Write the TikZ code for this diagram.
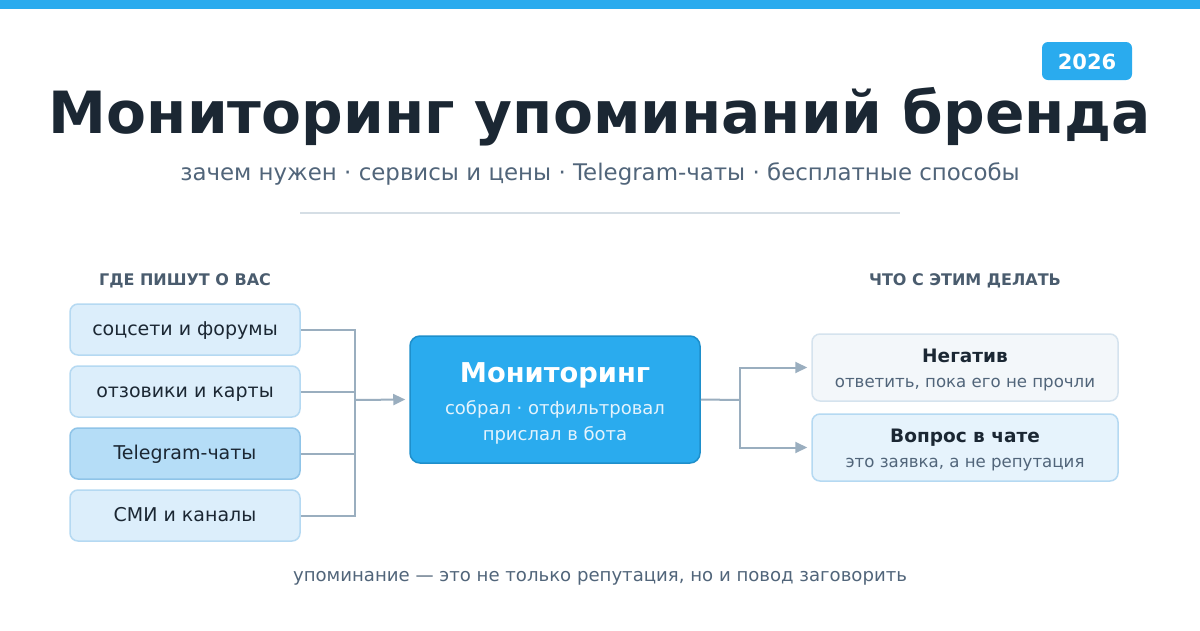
\documentclass[tikz,border=0pt]{standalone}
\usepackage{fontspec}
\setmainfont{DejaVu Sans}
\usetikzlibrary{arrows.meta}
\definecolor{tgblue}{HTML}{2AABEE}
\definecolor{tgborder}{HTML}{1E8FCB}
\definecolor{darktxt}{HTML}{1B2733}
\definecolor{graytxt}{HTML}{51657A}
\definecolor{headtxt}{HTML}{4A5C6E}
\definecolor{rule}{HTML}{D5DEE5}
\definecolor{srcfill}{HTML}{DCEEFB}
\definecolor{srcdraw}{HTML}{B5D9F2}
\definecolor{hifill}{HTML}{B5DDF7}
\definecolor{hidraw}{HTML}{8FC4E8}
\definecolor{conn}{HTML}{9AAEBF}
\definecolor{negfill}{HTML}{F3F7FA}
\definecolor{negdraw}{HTML}{D5E3EE}
\definecolor{qfill}{HTML}{E6F3FC}
\definecolor{subwhite}{HTML}{E3F3FD}
\tikzset{
  srcbox/.style={draw=srcdraw, fill=srcfill, line width=1.5pt, rounded corners=8pt, minimum width=230pt, minimum height=51pt, inner sep=0pt, text height=11pt, text depth=0pt, font=\fontsize{19}{22}\selectfont, text=darktxt},
  hibox/.style={srcbox, draw=hidraw, fill=hifill},
  outbox/.style={line width=1.5pt, rounded corners=8pt, minimum width=306pt, minimum height=67pt, inner sep=0pt},
  wire/.style={draw=conn, line width=2pt},
  arr/.style={wire, -{Triangle[length=12pt,width=11pt]}},
  lbl/.style={inner sep=0pt, anchor=base},
}
\begin{document}
\begin{tikzpicture}[x=1pt,y=-1pt]
\useasboundingbox (0,0) rectangle (1200,630);
\fill[white] (0,0) rectangle (1200,630);
\fill[tgblue] (0,0) rectangle (1200,9);
% badge
\node[fill=tgblue, rounded corners=6pt, minimum width=90pt, minimum height=38pt, inner sep=0pt] (badge) at (1087,61) {};
\node[lbl, text=white, font=\bfseries\fontsize{21}{24}\selectfont] (badgetxt) at (1087,69) {2026};
% title
\node[lbl, text=darktxt, font=\bfseries\fontsize{58.2}{66}\selectfont] (title) at (600,133) {Мониторинг упоминаний бренда};
\node[lbl, text=graytxt, font=\fontsize{22.9}{27}\selectfont] (subtitle) at (600,180) {зачем нужен · сервисы и цены · Telegram-чаты · бесплатные способы};
\draw[rule, line width=1.5pt] (300,213) -- (900,213);
% headers
\node[lbl, text=headtxt, font=\bfseries\fontsize{16}{19}\selectfont] (hl) at (185,285) {ГДЕ ПИШУТ О ВАС};
\node[lbl, text=headtxt, font=\bfseries\fontsize{16}{19}\selectfont] (hr) at (965,285) {ЧТО С ЭТИМ ДЕЛАТЬ};
% sources
\node[srcbox] (s1) at (185,329.5) {соцсети и форумы};
\node[srcbox] (s2) at (185,391.5) {отзовики и карты};
\node[hibox] (s3) at (185,453.5) {Telegram-чаты};
\node[srcbox] (s4) at (185,515.5) {СМИ и каналы};
% center
\node[draw=tgborder, fill=tgblue, line width=1.5pt, rounded corners=10pt, minimum width=290pt, minimum height=127pt, inner sep=0pt] (mon) at (555,399.5) {};
\node[lbl, text=white, font=\bfseries\fontsize{27.3}{31}\selectfont] (montitle) at (555,382) {Мониторинг};
\node[lbl, text=subwhite, font=\fontsize{18}{21}\selectfont] (monsub1) at (555,414) {собрал · отфильтровал};
\node[lbl, text=subwhite, font=\fontsize{18}{21}\selectfont] (monsub2) at (555,440) {прислал в бота};
% outputs
\node[outbox, draw=negdraw, fill=negfill] (neg) at (965,367.5) {};
\node[lbl, text=darktxt, font=\bfseries\fontsize{18.5}{21}\selectfont] (negt) at (965,362) {Негатив};
\node[lbl, text=graytxt, font=\fontsize{16.6}{19}\selectfont] (negs) at (965,387) {ответить, пока его не прочли};
\node[outbox, draw=srcdraw, fill=qfill] (q) at (965,447.5) {};
\node[lbl, text=darktxt, font=\bfseries\fontsize{18.5}{21}\selectfont] (qt) at (965,442) {Вопрос в чате};
\node[lbl, text=graytxt, font=\fontsize{16.6}{19}\selectfont] (qs) at (965,467) {это заявка, а не репутация};
% connectors
\coordinate (jl) at (355,400);
\coordinate (jr) at (740,400);
\draw[wire] (s1.east) -- (jl |- s1.east) -- (jl |- s4.east) -- (s4.east);
\draw[wire] (s2.east) -- (jl |- s2.east);
\draw[wire] (s3.east) -- (jl |- s3.east);
\draw[arr] (jl) -- ([xshift=-4pt]mon.west);
\draw[wire] (mon.east) -- (jr);
\draw[arr] (jr) |- ([xshift=-4pt]neg.west);
\draw[arr] (jr) |- ([xshift=-4pt]q.west);
% footer
\node[lbl, text=graytxt, font=\fontsize{18.1}{21}\selectfont] (foot) at (600,581) {упоминание — это не только репутация, но и повод заговорить};
\end{tikzpicture}
\end{document}
